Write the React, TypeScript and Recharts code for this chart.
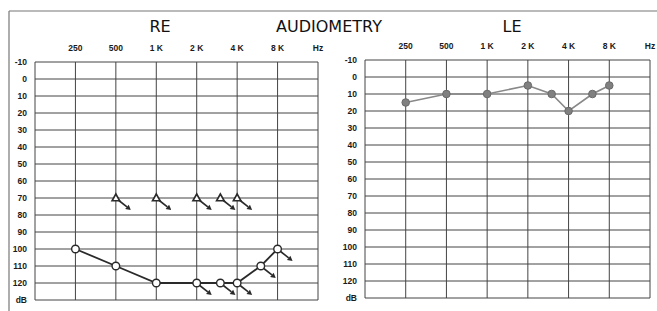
import React from "react";
import { ComposedChart, Line, XAxis, YAxis, CartesianGrid } from "recharts";

// ---- data ----
const freqTicks = [125, 250, 500, 1000, 2000, 4000, 8000, 16000];
const freqTickLabels = ["", "250", "500", "1 K", "2 K", "4 K", "8 K", "Hz"];
const dbTicks = [-10, 0, 10, 20, 30, 40, 50, 60, 70, 80, 90, 100, 110, 120, 130];

// Right ear air conduction (open circles)
const reAirFreq = [250, 500, 1000, 2000, 3000, 4000, 6000, 8000];
const reAirDb = [100, 110, 120, 120, 120, 120, 110, 100];
const reAirNoResponse = [false, false, false, true, true, true, true, true];

// Right ear bone conduction (triangles, no response)
const reBoneFreq = [500, 1000, 2000, 3000, 4000];
const reBoneDb = [70, 70, 70, 70, 70];

// Left ear air conduction (filled circles)
const leAirFreq = [250, 500, 1000, 2000, 3000, 4000, 6000, 8000];
const leAirDb = [15, 10, 10, 5, 10, 20, 10, 5];

const reAirData = reAirFreq.map((f, i) => ({ f, db: reAirDb[i], nr: reAirNoResponse[i] }));
const reBoneData = reBoneFreq.map((f, i) => ({ f, db: reBoneDb[i], nr: true }));
const leAirData = leAirFreq.map((f, i) => ({ f, db: leAirDb[i] }));

const INK = "#2a2a2a";
const GRID = "#444";

const Arrow = ({ cx, cy }: { cx: number; cy: number }) => {
  const x1 = cx + 3, y1 = cy + 2.5;
  const x2 = cx + 15, y2 = cy + 12;
  const ang = Math.atan2(y2 - y1, x2 - x1);
  const L = 5, W = 2.8;
  const bx = x2 - L * Math.cos(ang), by = y2 - L * Math.sin(ang);
  const px = -Math.sin(ang) * W, py = Math.cos(ang) * W;
  return (
    <g>
      <line x1={x1} y1={y1} x2={bx} y2={by} stroke={INK} strokeWidth={1.6} />
      <polygon points={`${x2},${y2} ${bx + px},${by + py} ${bx - px},${by - py}`} fill={INK} />
    </g>
  );
};

const OpenCircleDot = (props: any) => {
  const { cx, cy, payload, index } = props;
  if (cx == null || cy == null) return <g key={index} />;
  return (
    <g key={`oc${index}`}>
      {payload.nr && <Arrow cx={cx} cy={cy} />}
      <circle cx={cx} cy={cy} r={3.8} fill="#fff" stroke={INK} strokeWidth={1.4} />
    </g>
  );
};

const TriangleDot = (props: any) => {
  const { cx, cy, payload, index } = props;
  if (cx == null || cy == null) return <g key={index} />;
  return (
    <g key={`tr${index}`}>
      {payload.nr && <Arrow cx={cx} cy={cy} />}
      <polygon
        points={`${cx},${cy - 4} ${cx + 3.8},${cy + 2.8} ${cx - 3.8},${cy + 2.8}`}
        fill="#fff"
        stroke={INK}
        strokeWidth={1.6}
      />
    </g>
  );
};

const FilledDot = (props: any) => {
  const { cx, cy, index } = props;
  if (cx == null || cy == null) return <g key={index} />;
  return <circle key={`fd${index}`} cx={cx} cy={cy} r={3.8} fill="#808080" stroke="#6a6a6a" strokeWidth={1} />;
};

const tickStyle = { fontSize: 8.5, fontWeight: 700, fill: "#1a1a1a", fontFamily: "Liberation Sans, Arial, sans-serif" };

const fmtX = (v: number) => {
  const i = freqTicks.indexOf(v);
  return i >= 0 ? freqTickLabels[i] : "";
};
const fmtY = (v: number) => (v === 130 ? "dB" : String(v));

function Panel({ children, margin, width }: any) {
  return (
    <ComposedChart width={width} height={311} margin={margin}>
      <CartesianGrid stroke={GRID} strokeWidth={1} horizontalValues={dbTicks} verticalValues={freqTicks} />
      <XAxis
        dataKey="f"
        type="number"
        scale="log"
        domain={[125, 16000]}
        ticks={freqTicks}
        tickFormatter={fmtX}
        orientation="top"
        axisLine={false}
        tickLine={false}
        tickSize={6}
        tickMargin={5}
        height={20}
        tick={tickStyle}
        interval={0}
        allowDataOverflow
      />
      <YAxis
        type="number"
        domain={[-10, 130]}
        reversed
        ticks={dbTicks}
        tickFormatter={fmtY}
        axisLine={false}
        tickLine={false}
        tickSize={6}
        tickMargin={2}
        width={30}
        tick={tickStyle}
        interval={0}
      />
      {children}
    </ComposedChart>
  );
}

export default function App() {
  return (
    <div style={{ position: "absolute", left: 0, top: 0, width: 657, height: 311, background: "#fff", overflow: "hidden" }}>
      <svg width={657} height={311} style={{ position: "absolute", left: 0, top: 0 }}>
        <line x1={9} y1={11} x2={657} y2={11} stroke="#777" strokeWidth={1.2} />
        <line x1={9} y1={11} x2={9} y2={311} stroke="#777" strokeWidth={1.2} />
        <g fontFamily="DejaVu Sans, Verdana, sans-serif" fontSize={16} fill="#111" textAnchor="middle">
          <text x={160} y={32}>RE</text>
          <text x={329} y={32}>AUDIOMETRY</text>
          <text x={512} y={32}>LE</text>
        </g>
      </svg>
      <div style={{ position: "absolute", left: 0, top: 0 }}>
        <Panel width={330} margin={{ top: 42, right: 12, bottom: 11, left: 5 }}>
          <Line
            data={reAirData}
            dataKey="db"
            stroke={INK}
            strokeWidth={1.8}
            dot={OpenCircleDot}
            activeDot={false}
            isAnimationActive={false}
          />
          <Line
            data={reBoneData}
            dataKey="db"
            stroke="none"
            dot={TriangleDot}
            activeDot={false}
            isAnimationActive={false}
          />
        </Panel>
      </div>
      <div style={{ position: "absolute", left: 330, top: 0 }}>
        <Panel width={327} margin={{ top: 40, right: 7, bottom: 13, left: 5 }}>
          <Line
            data={leAirData}
            dataKey="db"
            stroke="#888"
            strokeWidth={1.6}
            dot={FilledDot}
            activeDot={false}
            isAnimationActive={false}
          />
        </Panel>
      </div>
    </div>
  );
}
